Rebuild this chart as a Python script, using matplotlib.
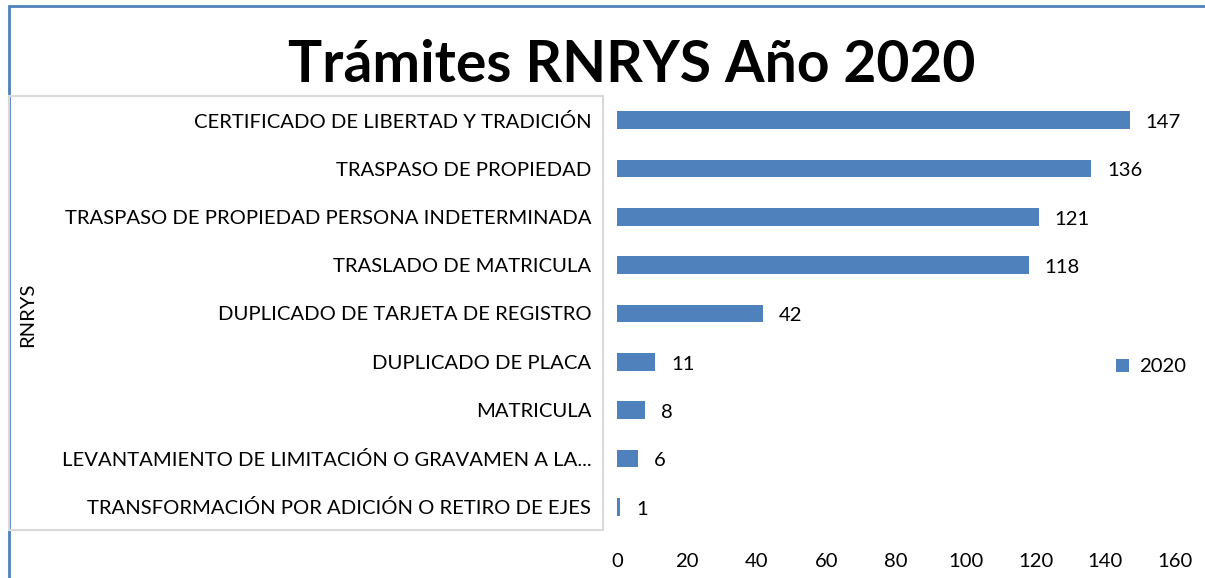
import matplotlib
matplotlib.use("Agg")
import matplotlib.pyplot as plt
from matplotlib.patches import Rectangle

plt.rcParams['font.family'] = ['Lato', 'DejaVu Sans']

# Data, top to bottom as shown
categories = [
    "CERTIFICADO DE LIBERTAD Y TRADICIÓN",
    "TRASPASO DE PROPIEDAD",
    "TRASPASO DE PROPIEDAD PERSONA INDETERMINADA",
    "TRASLADO DE MATRICULA",
    "DUPLICADO DE TARJETA DE REGISTRO",
    "DUPLICADO DE PLACA",
    "MATRICULA",
    "LEVANTAMIENTO DE LIMITACIÓN O GRAVAMEN A LA...",
    "TRANSFORMACIÓN POR ADICIÓN O RETIRO DE EJES",
]
values_2020 = [147, 136, 121, 118, 42, 11, 8, 6, 1]
xticks = [0, 20, 40, 60, 80, 100, 120, 140, 160]

bar_color = "#4F81BD"
fs = 14.6

fig = plt.figure(figsize=(12.05, 5.78), dpi=100)
ax = fig.add_axes([617/1205, 1 - 531/578, 558/1205, 435/578])

y = list(range(len(categories)))
bars = ax.barh(y, values_2020, height=0.36, color=bar_color, label="2020")
ax.set_ylim(len(categories) - 0.5, -0.5)
ax.set_xlim(0, 160)
ax.set_xticks(xticks)
ax.set_yticks(y)
ax.set_yticklabels(categories, fontsize=fs)
ax.tick_params(axis='x', labelsize=fs, length=0, pad=16)
ax.tick_params(axis='y', length=0, pad=18.5)
for s in ax.spines.values():
    s.set_visible(False)

for v, yy in zip(values_2020, y):
    ax.text(v + 4.5, yy + 0.05, str(v), va='center', ha='left', fontsize=fs)

# frame around the whole chart (cropped at right and bottom)
fig.patches.append(Rectangle((9/1205, -0.05), 1.1, 1 - 6/578 + 0.05,
                             transform=fig.transFigure, fill=False,
                             edgecolor="#4F81BD", linewidth=2))
# gray box around label area
fig.patches.append(Rectangle((9/1205, 1 - 530/578), (603 - 9)/1205, (530 - 96)/578,
                             transform=fig.transFigure, fill=False,
                             edgecolor="#D9D9D9", linewidth=1.5))

fig.text(632/1205, 1 - 66/578, "Trámites RNRYS Año 2020", ha='center', va='center',
         fontsize=41, fontweight='bold')
fig.text(28/1205, 1 - 315/578, "RNRYS", rotation=90, ha='center', va='center',
         fontsize=fs)

ax.legend(loc='center left', bbox_to_anchor=(1106/1205, 1 - 367/578),
          bbox_transform=fig.transFigure, frameon=False, fontsize=fs,
          handlelength=0.65, handleheight=0.65, handletextpad=0.5, borderpad=0)

fig.savefig("out.png", dpi=100)
